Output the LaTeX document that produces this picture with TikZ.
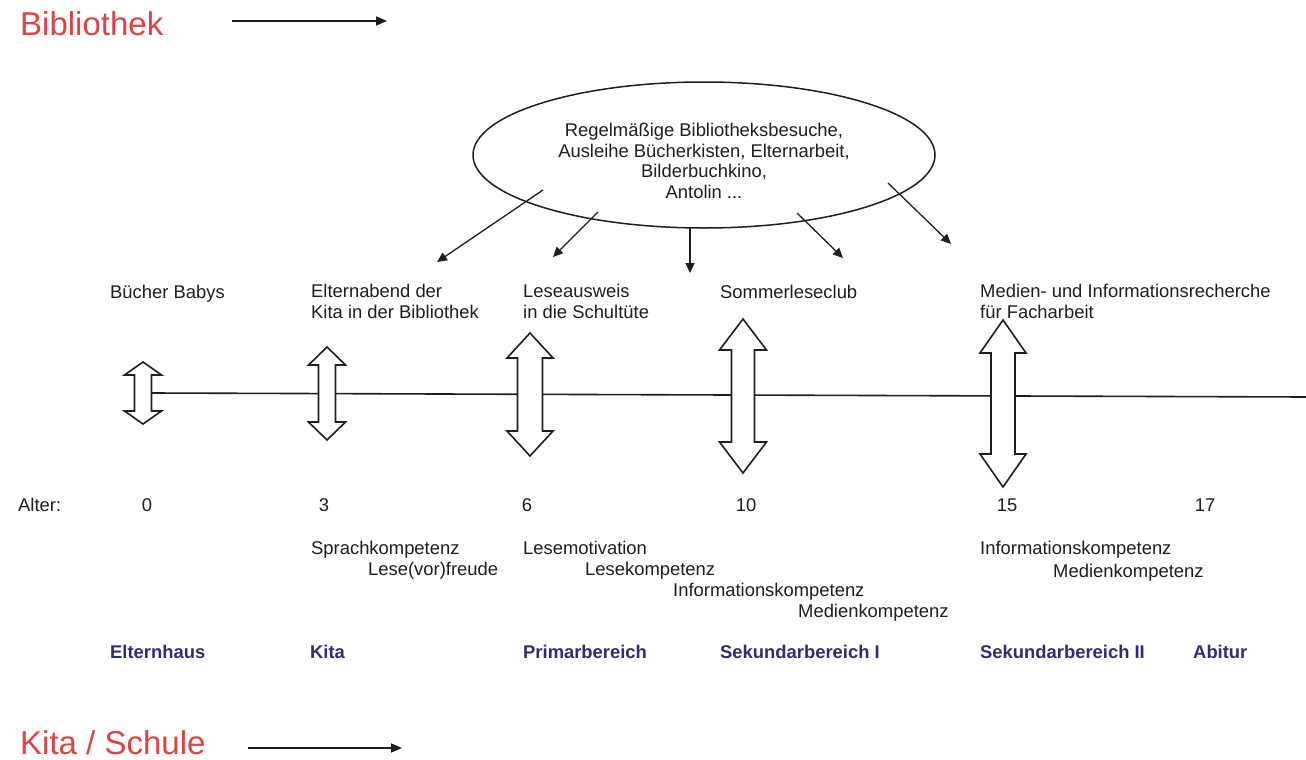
\documentclass[tikz,border=0pt]{standalone}
\usepackage{fontspec}
\setmainfont{Liberation Sans}
\usetikzlibrary{arrows.meta,shapes.geometric,calc}
\definecolor{capred}{RGB}{222,66,66}
\definecolor{stageblue}{RGB}{45,45,120}
\definecolor{ink}{RGB}{30,30,30}
\newcommand\dblarr[7]{% name, x, ytop, ybot, head half width, shaft half width, head length
  \coordinate (#1) at (#2,{(#3+#4)/2});
  \draw[arrowbox] (#2,#3) -- (#2+#5,#3+#7) -- (#2+#6,#3+#7) -- (#2+#6,#4-#7)
    -- (#2+#5,#4-#7) -- (#2,#4) -- (#2-#5,#4-#7) -- (#2-#6,#4-#7)
    -- (#2-#6,#3+#7) -- (#2-#5,#3+#7) -- cycle;}
\tikzset{
  caption/.style={font=\fontsize{33}{38}\selectfont, text=capred, inner sep=0pt, anchor=base west},
  txt/.style={font=\fontsize{18.4}{20.5}\selectfont, text=ink, inner sep=0pt, anchor=base west, align=left},
  num/.style={font=\fontsize{18.4}{20.5}\selectfont, text=ink, inner sep=0pt, anchor=base},
  stage/.style={font=\bfseries\fontsize{18.4}{20.5}\selectfont, text=stageblue, inner sep=0pt, anchor=base west},
  mainarrow/.style={line width=1.6pt, draw=ink, -{Triangle[length=11pt,width=9pt]}},
  actarrow/.style={line width=1.3pt, draw=ink, -{Triangle[length=10pt,width=9pt]}},
  arrowbox/.style={draw=ink, line width=1.6pt, fill=white, line join=miter},
  axis/.style={draw=ink, line width=1.6pt},
}
\begin{document}
\begin{tikzpicture}[x=1pt,y=-1pt]
\useasboundingbox (0,0) rectangle (1306,760);

% captions with arrows
\node[caption] (bib) at (20,36) {Bibliothek};
\coordinate (bibA) at (232,21);
\coordinate (bibB) at (387,21);
\draw[mainarrow] (bibA) -- (bibB);

\node[caption] (schule) at (20,754) {Kita / Schule};
\coordinate (schA) at (248,748);
\coordinate (schB) at (402,748);
\draw[mainarrow] (schA) -- (schB);

% ellipse with activities
\node[draw=ink, line width=1.5pt, ellipse, minimum width=462pt, minimum height=146pt, inner sep=0pt] (ell) at (704,155) {};
\node[font=\fontsize{18.4}{20.5}\selectfont, text=ink, align=center, inner sep=0pt] (acts) at (704,161)
  {Regelmäßige Bibliotheksbesuche,\\Ausleihe Bücherkisten, Elternarbeit,\\Bilderbuchkino,\\Antolin ...};

\coordinate (a1s) at (543,190); \coordinate (a1t) at (437,262);
\coordinate (a2s) at (598,212); \coordinate (a2t) at (553,257);
\coordinate (a3s) at (690,228); \coordinate (a3t) at (690,273);
\coordinate (a4s) at (797,213); \coordinate (a4t) at (843,258);
\coordinate (a5s) at (888,183); \coordinate (a5t) at (951,244);
\draw[actarrow] (a1s) -- (a1t);
\draw[actarrow] (a2s) -- (a2t);
\draw[actarrow] (a3s) -- (a3t);
\draw[actarrow] (a4s) -- (a4t);
\draw[actarrow] (a5s) -- (a5t);

% offers (base anchor of a two-line node is its last line)
\node[txt] (babys) at (110,298) {Bücher Babys};
\node[txt] (eabend) at (311,318) {Elternabend der\\Kita in der Bibliothek};
\node[txt] (ausweis) at (523,318) {Leseausweis\\in die Schultüte};
\node[txt] (sommer) at (720,298) {Sommerleseclub};
\node[txt] (recherche) at (980,318) {Medien- und Informationsrecherche\\für Facharbeit};

% time axis
\coordinate (axL) at (152,393);
\coordinate (axR) at (1306,397);
\draw[axis] (axL) -- (axR);

\dblarr{d0}{143}{362}{424}{18.5}{8.5}{13}
\dblarr{d3}{327}{347}{440}{18.5}{8.5}{18}
\dblarr{d6}{530}{333}{456}{23}{12.5}{25}
\dblarr{d10}{743}{319}{473}{23.5}{11.5}{31}
\dblarr{d15}{1003}{320}{487}{23}{12}{33}

% ages
\node[txt] (alter) at (18,511) {Alter:};
\node[num] (n0) at (147,511) {0};
\node[num] (n3) at (324,511) {3};
\node[num] (n6) at (527,511) {6};
\node[num] (n10) at (746,511) {10};
\node[num] (n15) at (1007,511) {15};
\node[num] (n17) at (1205,511) {17};

% competences
\node[txt] (sprach) at (311,554) {Sprachkompetenz};
\node[txt] (freude) at (368,575) {Lese(vor)freude};
\node[txt] (motiv) at (523,554) {Lesemotivation};
\node[txt] (lesek) at (585,575) {Lesekompetenz};
\node[txt] (infoA) at (673,596) {Informationskompetenz};
\node[txt] (medA) at (798,617) {Medienkompetenz};
\node[txt] (infoB) at (980,554) {Informationskompetenz};
\node[txt] (medB) at (1053,577) {Medienkompetenz};

% stages
\node[stage] (s0) at (110,658) {Elternhaus};
\node[stage] (s3) at (310,658) {Kita};
\node[stage] (s6) at (523,658) {Primarbereich};
\node[stage] (s10) at (720,658) {Sekundarbereich I};
\node[stage] (s15) at (980,658) {Sekundarbereich II};
\node[stage] (s17) at (1193,658) {Abitur};
\end{tikzpicture}
\end{document}
